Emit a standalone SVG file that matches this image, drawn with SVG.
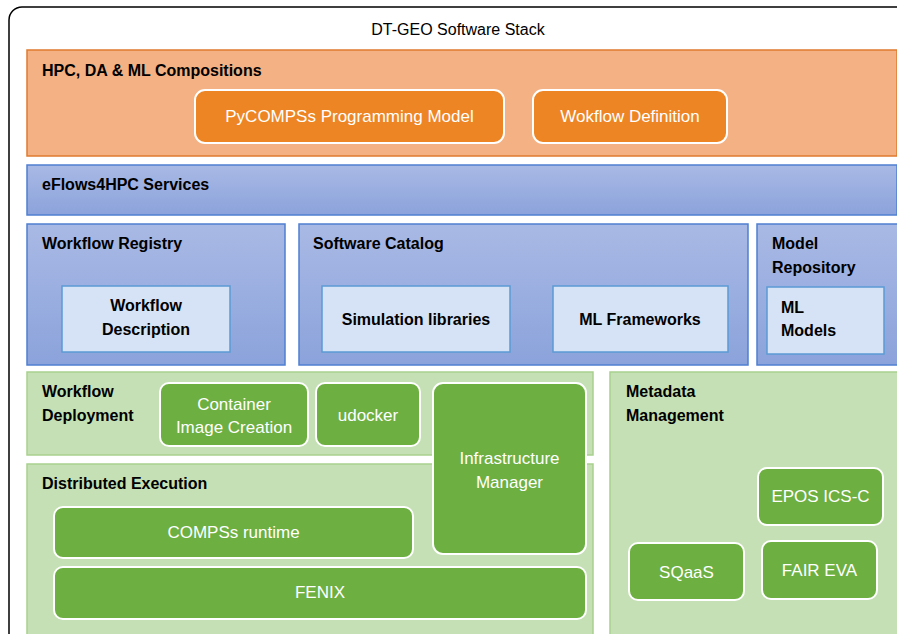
<svg xmlns="http://www.w3.org/2000/svg" width="897" height="634" viewBox="0 0 897 634">
<defs>
<linearGradient id="blue" x1="0" y1="0" x2="0" y2="1">
<stop offset="0" stop-color="#A9B9E5"/>
<stop offset="1" stop-color="#8BA3DB"/>
</linearGradient>
<style>
text{font-family:"Liberation Sans",Arial,sans-serif;}
.b{font-weight:bold;font-size:16px;fill:#000;}
.w{font-size:17px;fill:#fff;text-anchor:middle;}
.c{text-anchor:middle;}
.orange{fill:#F4B183;stroke:#E07B2F;stroke-width:1.5;}
.obox{fill:#EE8524;stroke:#fff;stroke-width:2;}
.blue{fill:url(#blue);stroke:#4F7FD0;stroke-width:1.5;}
.lblue{fill:#D6E2F5;stroke:#5B9BD5;stroke-width:1.5;}
.lgreen{fill:#C5E0B4;stroke:#A9D18E;stroke-width:1.5;}
.gbox{fill:#6DAF41;stroke:#fff;stroke-width:2;}
</style>
</defs>
<rect x="9" y="7" width="920" height="660" rx="13" fill="#fff" stroke="#000" stroke-width="1.5"/>
<text x="458" y="35" font-size="16" text-anchor="middle">DT-GEO Software Stack</text>

<g id="compositions">
<rect class="orange" x="27" y="50" width="870" height="106"/>
<text class="b" x="42" y="76">HPC, DA &amp; ML Compositions</text>
</g>
<g id="pycompss">
<rect class="obox" x="195" y="90" width="309" height="53" rx="10"/>
<text class="w" x="349.5" y="122">PyCOMPSs Programming Model</text>
</g>
<g id="wokflow-definition">
<rect class="obox" x="533" y="90" width="194" height="53" rx="10"/>
<text class="w" x="630" y="122">Wokflow Definition</text>
</g>

<g id="eflows">
<rect class="blue" x="27" y="165" width="870" height="50"/>
<text class="b" x="42" y="190">eFlows4HPC Services</text>
</g>

<g id="workflow-registry">
<rect class="blue" x="27" y="224" width="258" height="141"/>
<text class="b" x="42" y="249">Workflow Registry</text>
</g>
<g id="workflow-description">
<rect class="lblue" x="62" y="286" width="168" height="66"/>
<text class="b c" x="146" y="311">Workflow</text>
<text class="b c" x="146" y="335">Description</text>
</g>

<g id="software-catalog">
<rect class="blue" x="299" y="224" width="449" height="141"/>
<text class="b" x="313" y="249">Software Catalog</text>
</g>
<g id="simulation-libraries">
<rect class="lblue" x="322" y="286" width="188" height="66"/>
<text class="b c" x="416" y="325">Simulation libraries</text>
</g>
<g id="ml-frameworks">
<rect class="lblue" x="553" y="286" width="175" height="66"/>
<text class="b c" x="640" y="325">ML Frameworks</text>
</g>

<g id="model-repository">
<rect class="blue" x="757" y="224" width="142" height="141"/>
<text class="b" x="772" y="249">Model</text>
<text class="b" x="772" y="273">Repository</text>
</g>
<g id="ml-models">
<rect class="lblue" x="767" y="287" width="117" height="67"/>
<text class="b" x="781" y="313">ML</text>
<text class="b" x="781" y="336">Models</text>
</g>

<g id="workflow-deployment">
<rect class="lgreen" x="27" y="372" width="566" height="83"/>
<text class="b" x="42" y="397">Workflow</text>
<text class="b" x="42" y="421">Deployment</text>
</g>
<g id="distributed-execution">
<rect class="lgreen" x="27" y="464" width="566" height="180"/>
<text class="b" x="42" y="489">Distributed Execution</text>
</g>
<g id="metadata-management">
<rect class="lgreen" x="610" y="372" width="300" height="280"/>
<text class="b" x="626" y="397">Metadata</text>
<text class="b" x="626" y="421">Management</text>
</g>

<g id="container-image-creation">
<rect class="gbox" x="160" y="383" width="148" height="63" rx="9"/>
<text class="w" x="234" y="410">Container</text>
<text class="w" x="234" y="433">Image Creation</text>
</g>
<g id="udocker">
<rect class="gbox" x="316" y="383" width="104" height="63" rx="9"/>
<text class="w" x="368" y="421">udocker</text>
</g>
<g id="infrastructure-manager">
<rect class="gbox" x="433" y="383" width="153" height="171" rx="10"/>
<text class="w" x="509.5" y="464">Infrastructure</text>
<text class="w" x="509.5" y="488">Manager</text>
</g>
<g id="compss-runtime">
<rect class="gbox" x="54" y="507" width="359" height="51" rx="9"/>
<text class="w" x="233.5" y="538">COMPSs runtime</text>
</g>
<g id="fenix">
<rect class="gbox" x="54" y="567" width="532" height="52" rx="9"/>
<text class="w" x="320" y="598">FENIX</text>
</g>
<g id="epos-ics-c">
<rect class="gbox" x="758" y="468" width="125" height="57" rx="9"/>
<text class="w" x="820.5" y="502">EPOS ICS-C</text>
</g>
<g id="sqaas">
<rect class="gbox" x="629" y="543" width="115" height="57" rx="9"/>
<text class="w" x="686.5" y="578">SQaaS</text>
</g>
<g id="fair-eva">
<rect class="gbox" x="762" y="541" width="115" height="58" rx="9"/>
<text class="w" x="819.5" y="576">FAIR EVA</text>
</g>
<g id="connectors"></g>
</svg>
